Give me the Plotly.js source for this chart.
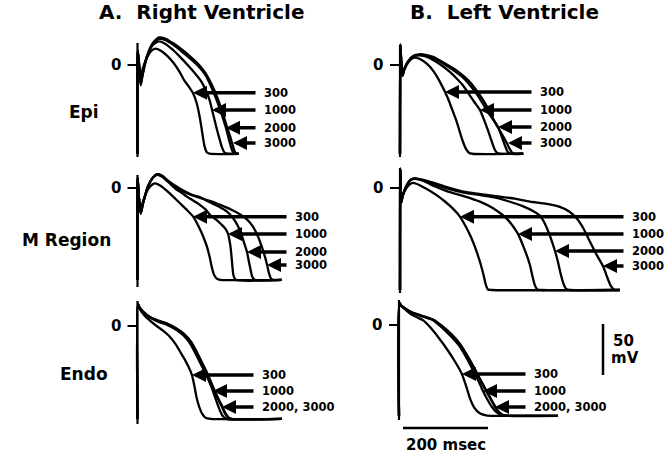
<!DOCTYPE html>
<html><head><meta charset="utf-8">
<script src="https://cdn.plot.ly/plotly-3.0.1.min.js"></script>
<style>html,body{margin:0;padding:0;background:#fff}#chart{width:667px;height:454px}</style>
</head><body><div id="chart"></div>
<script>
// ---- data (time in ms, membrane potential in mV) ----
const cycleLengths = ['300', '1000', '2000', '3000'];
const endoLabels = ['300', '1000', '2000, 3000'];
const rowLabels = ['Epi', 'M Region', 'Endo'];
const columnTitles = ['A.\u00a0 Right Ventricle', 'B.\u00a0 Left Ventricle'];
const scaleTimeMs = 200;
const scaleVoltMV = 50;

const rvEpi300 = [[0,-87],[0.8,10],[3.5,0],[7.5,-12],[12,-4],[22,7],[33,14],[42,16],[55,14],[70,9],[85,2],[98,-6],[110,-15],[122,-22],[131,-28],[139,-37],[145,-48],[150,-60],[154,-71],[158,-80],[163,-85.5],[170,-87],[238,-87]];
const rvEpi1000 = [[0,-87],[0.8,14],[3.5,2],[7.5,-18],[12,-8],[22,8],[35,19],[48,23],[62,21.5],[80,16],[100,8],[118,0],[135,-8],[150,-16],[162,-26],[170,-35],[176,-45],[182,-55],[188,-65],[194,-74],[199,-81],[205,-86],[212,-87],[238,-87]];
const rvEpi2000 = [[0,-87],[0.8,14],[3.5,2],[7.5,-19],[12,-9],[22,8],[35,20],[50,25.5],[65,24.5],[85,19.5],[105,13],[125,6],[145,-2],[160,-10],[172,-20],[183,-31],[193,-42],[201,-52],[208,-61.5],[214,-71],[219,-79],[224,-85],[229,-87],[238,-87]];
const rvEpi3000 = [[0,-87],[0.8,14],[3.5,2],[7.5,-20],[12,-10],[22,8],[35,21],[50,27],[65,26],[85,21],[105,15],[125,8],[145,0],[160,-8],[172,-17],[183,-27],[193,-38],[202,-49],[210,-60],[218,-70],[223.5,-78],[228,-84],[232,-87],[238,-87]];

const lvEpi300 = [[0,-87],[1,18],[3,2],[6,-11],[10,-5],[20,3],[31,7],[40,7],[55,4],[71,-2],[85,-10],[97,-19],[106,-26.5],[115,-35],[124,-45],[133,-55],[141,-66],[148,-75],[155,-82],[162,-86],[170,-87],[290,-87]];
const lvEpi1000 = [[0,-87],[1,20],[3,2],[6,-10],[10,-4],[20,4],[32,8.5],[45,9.5],[60,8.5],[78,5],[100,-1],[118,-7],[135,-14],[150,-21],[163,-29],[176,-37],[188,-44],[198,-54],[207,-64],[215,-74],[222,-82],[228,-86],[235,-87],[290,-87]];
const lvEpi2000 = [[0,-87],[1,20],[3,2],[6,-10],[10,-4],[20,4],[32,9],[45,10],[60,9.5],[78,7],[100,2],[120,-3.5],[135,-8],[150,-13],[165,-20],[180,-28],[195,-38],[208,-47],[220,-54],[231,-61],[240,-71],[247,-79],[253,-85],[260,-87],[290,-87]];
const lvEpi3000 = [[0,-87],[1,20],[3,2],[6,-10],[10,-4],[20,4],[32,9],[45,10.5],[60,10],[78,8],[100,3],[120,-2],[135,-6],[150,-11],[165,-17],[180,-25],[195,-34],[210,-45],[222,-55],[233,-63],[244,-71],[253,-78],[259,-83],[265,-86.5],[272,-87],[290,-87]];

const rvM300 = [[0,-90],[0.5,8],[3,-8],[7.5,-22],[13,-13],[25,-1],[35,3.5],[42,4.6],[55,2],[70,-3],[84,-8.5],[100,-15],[115,-21],[131,-28],[143,-37],[155,-48],[163,-57],[170,-68],[175,-78],[180,-85],[187,-89],[195,-90],[339,-90]];
const rvM1000 = [[0,-90],[0.5,10],[3,-8],[7.5,-25],[13,-15],[25,2],[38,11],[47,13],[58,11],[72,6],[90,-1],[105,-5],[116,-8.5],[130,-12],[145,-16],[160,-21],[171,-26.5],[185,-31],[198,-36],[207,-40],[213,-45],[218,-55],[221,-66],[223.5,-78],[226,-86],[231,-90],[339,-90]];
const rvM2000 = [[0,-90],[0.5,10],[3,-8],[7.5,-25],[13,-15],[25,2],[38,11],[47,13.5],[58,12],[72,7],[90,1],[110,-4],[128,-7],[147,-9],[170,-14],[190,-18],[210,-23],[225,-29.7],[236,-37],[245,-46],[251,-54],[257.6,-62.7],[262,-72],[266,-80],[270,-87],[276,-90],[339,-90]];
const rvM3000 = [[0,-90],[0.5,10],[3,-8],[7.5,-25],[13,-15],[25,2],[38,11],[47,13.5],[58,12],[72,7],[90,2],[110,-3],[135,-8],[160,-11.5],[180,-14],[200,-17.5],[220,-21],[240,-25.5],[258,-31],[272,-38],[283,-47],[292,-57],[299,-66],[305,-75.5],[309,-83],[313,-88],[318,-90],[339,-90]];

const lvM300 = [[0,-100],[0.6,18],[1.5,5],[3,-14],[6,-8],[15,0],[24,4],[31,5],[45,3],[65,-1.5],[86,-7],[105,-13],[124,-20],[141,-28],[155,-38],[168,-49],[180,-62],[190,-75],[197,-86],[202,-95],[207,-99.5],[215,-100],[517,-100]];
const lvM1000 = [[0,-100],[0.6,19],[1.5,5],[3,-14],[6,-8],[15,2],[25,8],[35,9],[55,7],[80,2],[110,-3],[150,-8],[188,-13.4],[220,-20],[240,-26],[251,-30],[265,-37],[277.6,-45],[290,-57],[300,-68],[306,-76],[312,-87],[317,-95],[323,-99.5],[332,-100],[517,-100]];
const lvM2000 = [[0,-100],[0.6,19],[1.5,5],[3,-14],[6,-8],[15,2],[25,8],[35,9.5],[55,7.5],[80,4],[110,-0.5],[150,-4.5],[190,-7],[220,-9],[255,-13],[290,-18],[315,-23],[329,-27],[341,-35],[352,-46],[364.7,-61.8],[372,-73],[378,-84],[384,-93],[391,-99],[400,-100],[517,-100]];
const lvM3000 = [[0,-100],[0.6,19],[1.5,5],[3,-14],[6,-8],[15,2],[25,8],[35,9.5],[55,8],[80,5],[110,1],[149,-3.6],[190,-6],[235,-8.5],[270,-10.5],[306,-13.4],[345,-15.5],[376,-18.5],[398,-23],[416,-30],[432,-40],[447,-52.6],[462,-65],[477.6,-76.5],[488,-88],[496,-96],[505,-100],[517,-100]];

const rvEndo300 = [[0,-91],[0.8,22],[5,17],[15,11],[30,5],[45,0],[60,-4.5],[75,-10],[90,-18],[100,-25],[110,-32],[120,-40],[128,-48],[134,-59],[139,-70],[145,-79],[152,-86],[160,-90],[172,-91],[340,-91]];
const rvEndo1000 = [[0,-91],[0.8,22],[5,18],[15,13],[30,8],[50,4],[70,1],[92,-4],[110,-10],[125,-18],[139,-29],[152,-40],[165,-51],[177.6,-63.7],[186,-74],[193,-82],[200,-88],[208,-91],[340,-91]];
const rvEndo2000 = [[0,-91],[0.8,22],[5,18],[15,13.5],[30,8.5],[50,5],[70,2],[92,-3],[110,-8.5],[125,-16],[139,-26],[152,-37],[165,-48],[178,-61],[189,-71],[198.8,-79.4],[206,-86],[213,-90],[220,-91],[340,-91]];
const rvEndo3000 = [[0,-91],[0.8,22],[5,18],[15,13.5],[30,8.5],[50,5],[70,2.5],[92,-2.5],[110,-8],[125,-15],[139,-25],[152,-36],[165,-47],[178,-60],[189,-70],[199,-78.5],[207,-85.5],[215,-90],[222,-91],[340,-91]];

const lvEndo300 = [[0,-89],[0.8,22],[5,19],[15,15],[30,10],[45,7],[57,4.5],[75,-3],[96,-14],[115,-25],[132,-36],[148,-48],[158,-60],[167,-72],[177,-81],[190,-86.5],[205,-88.5],[222,-89],[374,-89]];
const lvEndo1000 = [[0,-89],[0.8,22],[5,19],[15,16],[30,12],[50,9],[65,7],[81,4.5],[100,-2],[122,-11],[143.5,-21.3],[160,-33],[175,-45],[187,-55],[197.6,-64.7],[208,-73],[218,-80],[228,-85],[240,-88],[255,-89],[374,-89]];
const lvEndo2000 = [[0,-89],[0.8,22],[5,19],[15,16],[30,12.5],[50,9.5],[65,7.5],[81,5],[100,-1],[122,-9],[143.5,-19],[160,-30],[175,-41],[190,-53],[203,-63],[215,-72],[225.9,-80.4],[235,-85.5],[245,-88.5],[258,-89],[374,-89]];
const lvEndo3000 = [[0,-89],[0.8,22],[5,19],[15,16],[30,12.5],[50,9.5],[65,7.5],[81,5.2],[100,-0.5],[122,-8.5],[143.5,-18.5],[160,-29.5],[175,-40.5],[190,-52.5],[203,-62.5],[215,-71.5],[226.5,-80],[236,-85.5],[246,-88.5],[260,-89],[374,-89]];

// ---- layout geometry (pixels) ----
const W = 667, H = 454, PXMS = 0.425, PXMV = 1.02;
const FONT = 'DejaVu Sans';
const panels = [
  {curves:[rvEpi300,rvEpi1000,rvEpi2000,rvEpi3000], labels:cycleLengths, ox:137.5, oy:65, L:95, R:345, T:20, B:170, axTop:43, axBot:157,
   levels:[-27.2,-44.1,-61.5,-76.5], tips:[130.6,175.3,208.2,224.7], tailPx:257},
  {curves:[lvEpi300,lvEpi1000,lvEpi2000,lvEpi3000], labels:cycleLengths, ox:400, oy:65, L:355, R:665, T:20, B:170, axTop:45, axBot:157,
   levels:[-26.5,-44.1,-60.8,-76.5], tips:[105.9,188.2,230.6,254], tailPx:533},
  {curves:[rvM300,rvM1000,rvM2000,rvM3000], labels:cycleLengths, ox:137.5, oy:188, L:95, R:345, T:150, B:305, axTop:175, axBot:287,
   levels:[-28.1,-45.1,-62.7,-75.5], tips:[130.6,212.9,257.6,304.7], tailPx:288},
  {curves:[lvM300,lvM1000,lvM2000,lvM3000], labels:cycleLengths, ox:400, oy:188, L:355, R:665, T:150, B:305, axTop:168, axBot:293,
   levels:[-28.1,-45.1,-61.8,-76.5], tips:[141.2,277.6,364.7,477.6], tailPx:625},
  {curves:[rvEndo300,rvEndo1000,rvEndo2000,rvEndo3000], labels:endoLabels, ox:137.5, oy:326, L:95, R:345, T:290, B:440, axTop:301, axBot:424,
   levels:[-48,-63.7,-79.4], tips:[128.2,177.6,198.8], tailPx:255},
  {curves:[lvEndo300,lvEndo1000,lvEndo2000,lvEndo3000], labels:endoLabels, ox:399, oy:325, L:355, R:665, T:290, B:454, axTop:300, axBot:420,
   levels:[-48,-64.7,-80.4], tips:[148.2,197.6,225.9], tailPx:527}
];

const data = [], shapes = [], annotations = [];
const layout = {width:W, height:H, margin:{l:0,r:0,t:0,b:0}, paper_bgcolor:'#fff', plot_bgcolor:'rgba(0,0,0,0)', showlegend:false};
const tx = (p, px) => (px - p.ox) / PXMS;
const vy = (p, py) => (p.oy - py) / PXMV;
const bold = (size) => ({family:FONT, size:size, color:'#000', weight:'bold'});

panels.forEach((p, i) => {
  const k = i + 1, xs = k === 1 ? '' : String(k);
  const xr = 'x' + xs, yr = 'y' + xs;
  layout['xaxis' + xs] = {domain:[p.L / W, p.R / W], range:[tx(p, p.L), tx(p, p.R)], visible:false, anchor:yr, fixedrange:true};
  layout['yaxis' + xs] = {domain:[1 - p.B / H, 1 - p.T / H], range:[vy(p, p.B), vy(p, p.T)], visible:false, anchor:xr, fixedrange:true};
  p.curves.forEach(c => {
    data.push({x:c.map(d => d[0]), y:c.map(d => d[1]), xaxis:xr, yaxis:yr, mode:'lines', hoverinfo:'skip',
      line:{color:'#000', width:2.3, shape:'spline', smoothing:0.6}});
  });
  // vertical axis line and zero tick
  shapes.push({type:'line', xref:xr, yref:yr, x0:0, x1:0, y0:vy(p, p.axTop), y1:vy(p, p.axBot), line:{color:'#000', width:2.2}});
  shapes.push({type:'line', xref:xr, yref:yr, x0:tx(p, p.ox - 10), x1:0, y0:0, y1:0, line:{color:'#000', width:2}});
  annotations.push({xref:xr, yref:yr, x:tx(p, p.ox - 15), y:0, text:'0', showarrow:false, xanchor:'right', yanchor:'middle', font:bold(15)});
  // arrows and cycle length labels
  const tail = tx(p, p.tailPx);
  p.labels.forEach((lab, j) => {
    annotations.push({xref:xr, yref:yr, axref:xr, ayref:yr, x:p.tips[j], y:p.levels[j], ax:tail, ay:p.levels[j], text:'',
      showarrow:true, arrowhead:2, arrowsize:0.8, arrowwidth:3.5, arrowcolor:'#000', standoff:0});
    annotations.push({xref:xr, yref:yr, x:tail + 5 / PXMS, y:p.levels[j], text:lab, showarrow:false, xanchor:'left', yanchor:'middle', font:bold(11.5)});
  });
});

// scale bars in the left-ventricle endo panel
{
  const p = panels[5];
  const t0 = tx(p, 403), vBar = vy(p, 428);
  shapes.push({type:'line', xref:'x6', yref:'y6', x0:t0, x1:t0 + scaleTimeMs, y0:vBar, y1:vBar, line:{color:'#000', width:2.5}});
  const tV = tx(p, 603), v0 = vy(p, 324);
  shapes.push({type:'line', xref:'x6', yref:'y6', x0:tV, x1:tV, y0:v0, y1:v0 - scaleVoltMV, line:{color:'#000', width:2.5}});
  annotations.push({xref:'x6', yref:'y6', x:t0 + scaleTimeMs / 2, y:vy(p, 445), text:scaleTimeMs + ' msec', showarrow:false, xanchor:'center', yanchor:'middle', font:bold(15)});
  annotations.push({xref:'x6', yref:'y6', x:tx(p, 623), y:vy(p, 341), text:String(scaleVoltMV), showarrow:false, xanchor:'center', yanchor:'middle', font:bold(15)});
  annotations.push({xref:'x6', yref:'y6', x:tx(p, 625), y:vy(p, 358), text:'mV', showarrow:false, xanchor:'center', yanchor:'middle', font:bold(15)});
}

// column titles and row labels
annotations.push({xref:'paper', yref:'paper', x:201 / W, y:1 - 12 / H, text:columnTitles[0], showarrow:false, xanchor:'center', yanchor:'middle', font:bold(20)});
annotations.push({xref:'paper', yref:'paper', x:504 / W, y:1 - 12 / H, text:columnTitles[1], showarrow:false, xanchor:'center', yanchor:'middle', font:bold(20)});
const rowPos = [[84, 112], [66, 240], [84, 374]];
rowLabels.forEach((r, i) => {
  annotations.push({xref:'paper', yref:'paper', x:rowPos[i][0] / W, y:1 - rowPos[i][1] / H, text:r, showarrow:false, xanchor:'center', yanchor:'middle', font:bold(17)});
});

layout.shapes = shapes;
layout.annotations = annotations;
Plotly.newPlot('chart', data, layout, {staticPlot:true, displayModeBar:false});
</script></body></html>
